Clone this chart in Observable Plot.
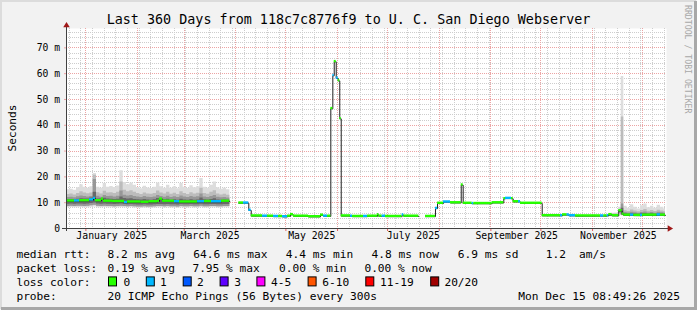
<!DOCTYPE html>
<html>
<head>
<meta charset="utf-8">
<script src="https://cdn.jsdelivr.net/npm/d3@7"></script>
<script src="https://cdn.jsdelivr.net/npm/@observablehq/plot@0.6"></script>
<style>
  html, body { margin: 0; padding: 0; background: #f2f2f2; }
  #page { position: relative; width: 697px; height: 310px; background: #f2f2f2; overflow: hidden; }
  #page svg { position: absolute; left: 0; top: 0; }
</style>
</head>
<body>
<div id="page"></div>
<script>
// ---------------- data ----------------
const rangeStart = "2024-12-20T08:49:26";
const rangeEnd = "2025-12-15T08:49:26";
const yMax = 77.5;

const yTicks = [0, 10, 20, 30, 40, 50, 60, 70];
const yTickLabels = ["0", "10 m", "20 m", "30 m", "40 m", "50 m", "60 m", "70 m"];
const xLabelDates = ["2025-01-16T12:00", "2025-03-16T12:00", "2025-05-16T12:00", "2025-07-16T12:00", "2025-09-16T12:00", "2025-11-16T12:00"];
const xLabels = ["January 2025", "March 2025", "May 2025", "July 2025", "September 2025", "November 2025"];

const lossColors = ["#26ff00", "#00b8ff", "#0059ff", "#5e00ff", "#ff00ff", "#ff5500", "#ff0000", "#a00000"];
const lossLabels = ["0", "1", "2", "3", "4-5", "6-10", "11-19", "20/20"];

// median rtt (ms), step starts; null = no data
const medDates = [
  "2024-12-20T09:00","2024-12-25T04:00","2024-12-28T04:00","2025-01-03T04:00","2025-01-05T14:00","2025-01-06T18:00",
  "2025-01-10T09:00","2025-01-11T14:00","2025-01-17T00:00","2025-01-24T04:00","2025-01-26T00:00","2025-02-03T00:00",
  "2025-02-08T00:00","2025-02-13T00:00","2025-02-14T04:00","2025-02-16T00:00","2025-02-23T04:00","2025-02-26T04:00",
  "2025-03-09T00:00","2025-03-13T04:00","2025-03-17T09:00","2025-03-23T09:00","2025-03-28T08:00",
  "2025-04-02T18:00","2025-04-05T14:00","2025-04-08T18:00","2025-04-10T05:00","2025-04-17T00:00","2025-04-20T00:00",
  "2025-04-23T14:00","2025-04-26T14:00","2025-04-29T00:00","2025-05-02T00:00","2025-05-03T18:00","2025-05-05T14:00",
  "2025-05-14T14:00","2025-05-21T18:00","2025-05-23T14:00","2025-05-26T00:00",
  "2025-05-27T23:00","2025-05-29T04:00","2025-05-30T00:00","2025-05-31T05:00","2025-06-01T09:00","2025-06-02T08:00",
  "2025-06-03T05:00","2025-06-08T18:00","2025-06-10T00:00","2025-06-16T14:00","2025-06-19T00:00","2025-06-25T00:00",
  "2025-06-25T18:00","2025-06-27T18:00","2025-06-29T18:00","2025-07-09T18:00","2025-07-10T18:00","2025-07-19T18:00",
  "2025-07-23T18:00","2025-07-29T18:00","2025-07-31T00:00","2025-08-03T14:00","2025-08-07T18:00","2025-08-14T05:00",
  "2025-08-15T09:00","2025-08-20T18:00","2025-08-21T18:00","2025-09-01T18:00","2025-09-08T18:00","2025-09-09T18:00",
  "2025-09-13T09:00","2025-09-14T09:00","2025-09-17T14:00","2025-09-18T18:00","2025-10-01T19:00","2025-10-12T18:00",
  "2025-10-14T00:00","2025-10-16T18:00","2025-10-18T00:00","2025-10-21T18:00","2025-11-05T18:00","2025-11-07T18:00",
  "2025-11-09T18:00","2025-11-10T18:00","2025-11-12T18:00","2025-11-16T18:00","2025-11-18T19:00","2025-11-19T18:00",
  "2025-11-23T18:00","2025-11-25T18:00","2025-11-29T18:00","2025-11-30T23:00","2025-12-09T18:00","2025-12-11T18:00",
  "2025-12-14T18:00"
];
const medValues = [
  10.6,10.6,10.7,11.0,11.6,10.7,
  11.3,10.5,10.4,10.0,10.2,10.1,
  10.3,10.5,11.3,10.5,10.3,10.2,
  10.3,10.4,10.3,10.5,null,
  9.8,9.8,7.0,4.8,4.7,4.7,
  4.6,4.6,4.5,4.7,5.3,4.7,
  4.5,5.1,4.7,4.7,
  46.4,59.2,64.6,58.2,57.2,42.5,
  4.8,4.7,4.6,4.6,4.7,5.3,
  4.7,4.7,4.6,5.2,4.7,null,
  4.6,7.7,9.7,10.2,9.9,16.8,
  9.7,9.6,9.6,9.9,11.5,11.6,
  11.5,10.3,10.3,9.7,4.9,4.9,
  5.2,5.2,4.9,4.8,4.8,4.8,
  4.9,5.3,4.9,6.8,5.5,5.1,
  5.1,5.0,5.0,5.1,5.2,5.1,
  null
];
const medLoss = [
  0,1,0,1,1,0,
  0,0,0,1,0,0,
  0,0,0,0,1,0,
  1,0,1,0,0,
  0,1,1,0,1,0,
  1,0,1,0,0,0,
  0,0,1,0,
  0,1,0,1,0,0,
  0,1,0,1,0,0,
  0,1,0,1,0,0,
  0,1,0,1,0,0,
  0,1,0,0,0,1,
  0,0,1,0,0,1,
  0,1,1,0,1,0,
  1,0,0,0,0,0,
  1,0,1,0,1,0,
  0
];

// smoke (consolidated ping ranks, ms); step starts, null = none
const smokeDates = [
  "2024-12-20","2024-12-22","2024-12-24","2024-12-26","2024-12-28","2024-12-30",
  "2025-01-01","2025-01-03","2025-01-05","2025-01-07","2025-01-09","2025-01-11","2025-01-13","2025-01-15",
  "2025-01-17","2025-01-19","2025-01-21","2025-01-23","2025-01-25","2025-01-27","2025-01-29","2025-01-31",
  "2025-02-02","2025-02-04","2025-02-06","2025-02-08","2025-02-10","2025-02-12","2025-02-14",
  "2025-02-16","2025-02-18","2025-02-20","2025-02-22","2025-02-24","2025-02-26","2025-02-28",
  "2025-03-02","2025-03-04","2025-03-06","2025-03-08","2025-03-10","2025-03-12","2025-03-14",
  "2025-03-16","2025-03-18","2025-03-20","2025-03-22","2025-03-24","2025-03-26",
  "2025-03-28",
  "2025-11-10","2025-11-12","2025-11-14","2025-11-16T18:00","2025-11-18T05:00","2025-11-19T18:00",
  "2025-11-21T18:00","2025-11-23T18:00","2025-11-25T18:00","2025-11-27T18:00","2025-11-29T18:00","2025-12-01T18:00",
  "2025-12-03T18:00","2025-12-05T18:00","2025-12-07T18:00","2025-12-09T18:00","2025-12-11T18:00","2025-12-13T18:00",
  "2025-12-14T18:00"
];
const smokeMax = [
  15.0,15.2,14.8,15.8,17.0,16.0,
  15.6,16.2,21.3,16.0,15.6,17.4,16.0,16.3,15.9,16.5,22.4,17.8,17.0,17.6,16.8,15.8,
  15.4,16.4,15.7,15.5,16.0,17.6,16.2,15.6,16.8,15.6,16.2,15.4,17.4,16.0,
  15.5,16.6,15.8,16.2,19.4,16.0,15.6,16.8,18.0,15.8,15.2,15.6,15.0,
  null,
  5.6,5.9,6.0,8.2,58.9,8.6,7.8,9.2,8.2,7.6,8.8,9.5,8.0,8.6,7.8,9.0,8.2,7.6,
  null
];
const smokeHigh = [
  13.2,13.4,13.0,13.6,14.2,13.8,
  13.5,13.8,20.6,13.9,13.4,14.4,13.8,13.9,13.6,14.0,18.0,14.8,14.2,14.6,14.0,13.6,
  13.2,13.8,13.4,13.3,13.6,14.5,13.8,13.4,14.0,13.3,13.7,13.2,14.2,13.6,
  13.2,13.9,13.4,13.7,15.6,13.6,13.3,14.0,14.6,13.4,13.0,13.3,12.9,
  null,
  5.4,5.6,5.6,7.5,43.2,6.9,6.6,7.2,6.8,6.5,7.0,7.4,6.7,7.0,6.6,7.1,6.8,6.5,
  null
];
const smokeMid = [
  12.0,12.1,11.9,12.3,12.6,12.4,
  12.2,12.4,19.0,12.5,12.1,12.8,12.4,12.5,12.2,12.5,14.5,12.9,12.6,12.8,12.4,12.2,
  12.0,12.4,12.1,12.0,12.2,12.8,12.4,12.1,12.5,12.0,12.3,12.0,12.6,12.2,
  12.0,12.4,12.1,12.3,13.4,12.2,12.0,12.4,12.8,12.1,11.9,12.0,11.8,
  null,
  5.2,5.4,5.4,7.2,9.5,6.2,6.0,6.3,6.1,5.9,6.2,6.4,6.0,6.2,5.9,6.3,6.1,5.9,
  null
];
const smokeInner = [
  11.2,11.2,11.1,11.3,11.5,11.4,
  11.4,11.8,14.0,11.4,11.5,11.7,11.4,11.3,11.2,11.3,12.2,11.6,11.4,11.5,11.2,11.1,
  11.0,11.2,11.0,10.9,11.1,11.6,11.5,11.1,11.3,10.9,11.1,10.9,11.3,11.0,
  10.9,11.1,10.9,11.0,11.8,11.1,11.0,11.2,11.5,11.0,10.9,11.0,10.9,
  null,
  5.1,5.3,5.2,7.0,7.8,5.7,5.6,5.7,5.6,5.5,5.7,5.8,5.6,5.7,5.5,5.7,5.6,5.5,
  null
];
const smokeCore = [
  9.4,9.5,9.4,9.5,9.5,9.4,
  9.5,9.7,9.9,9.5,9.4,9.5,9.4,9.4,9.3,9.4,9.5,9.3,9.2,9.3,9.2,9.1,
  9.1,9.2,9.1,9.1,9.2,9.3,9.3,9.2,9.3,9.2,9.2,9.1,9.3,9.2,
  9.2,9.3,9.2,9.2,9.4,9.2,9.2,9.3,9.3,9.2,9.2,9.3,9.3,
  null,
  4.8,4.9,4.8,6.4,5.3,4.9,4.9,4.9,4.9,4.8,4.9,5.0,4.9,4.9,4.8,4.9,4.9,4.8,
  null
];
const smokeLow = [
  8.5,8.6,8.5,8.6,8.6,8.5,
  8.6,8.8,9.0,8.6,8.5,8.6,8.5,8.5,8.4,8.5,8.6,8.5,8.4,8.5,8.4,8.3,
  8.3,8.4,8.3,8.3,8.4,8.5,8.5,8.4,8.5,8.4,8.4,8.3,8.5,8.4,
  8.4,8.5,8.4,8.4,8.6,8.4,8.4,8.5,8.5,8.4,8.4,8.5,8.5,
  null,
  4.7,4.8,4.7,6.0,5.0,4.8,4.8,4.8,4.8,4.7,4.8,4.9,4.8,4.8,4.7,4.8,4.8,4.7,
  null
];
const smokeMin = [
  8.0,8.1,8.0,8.0,8.1,8.0,
  8.0,8.2,8.3,8.0,8.0,8.1,8.0,8.0,7.9,8.0,8.1,8.0,8.0,8.1,7.9,7.9,
  7.8,7.9,7.9,7.8,7.9,8.0,8.0,7.9,8.0,7.9,7.9,7.8,8.0,7.9,
  7.9,8.0,7.9,7.9,8.1,7.9,7.9,8.0,8.0,7.9,7.9,8.0,8.0,
  null,
  4.6,4.7,4.6,5.6,4.8,4.7,4.7,4.7,4.7,4.6,4.7,4.8,4.7,4.7,4.6,4.7,4.7,4.6,
  null
];

// legend texts
const titleText = "Last 360 Days from 118c7c8776f9 to U. C. San Diego Webserver";
const rttItems = ["8.2 ms avg", "64.6 ms max", "4.4 ms min", "4.8 ms now", "6.9 ms sd", "1.2", "am/s"];
const lossItems = ["0.19 % avg", "7.95 % max", "0.00 % min", "0.00 % now"];
const probeText = "20 ICMP Echo Pings (56 Bytes) every 300s";
const stampText = "Mon Dec 15 08:49:26 2025";

// ---------------- layout ----------------
const W = 697, H = 310;
const rttX = [107.6, 193.3, 285.8, 371.6, 457.8, 545.8, 579.1];
const lossX = [107.6, 192.4, 279.1, 364.4];
const boxX = [108, 145.8, 182.7, 219.6, 256.4, 307.6, 365.3, 430.2];
const boxLabelX = [123.6, 160, 196.9, 234.2, 271, 322.2, 380, 444.4];
const rowY = [258.4, 272.4, 286.4, 300.4];

const parse = s => new Date(s.length === 10 ? s + "T09:00" : s);
const T0 = new Date(rangeStart), T1 = new Date(rangeEnd);

// build step geometry from the arrays
const medSteps = medDates.slice(0, -1).map((d, i) => ({t0: parse(d), t1: parse(medDates[i + 1]), v: medValues[i], loss: medLoss[i]}));
const medPts = [];
medSteps.forEach(s => {
  if (s.v == null) medPts.push({t: s.t0, v: NaN});
  else medPts.push({t: s.t0, v: s.v}, {t: s.t1, v: s.v});
});
const bandSteps = medSteps.filter(s => s.v != null);

const smokeSteps = smokeDates.slice(0, -1).map((d, i) => ({
  t0: parse(d), t1: parse(smokeDates[i + 1]),
  min: smokeMin[i], low: smokeLow[i], core: smokeCore[i],
  inner: smokeInner[i], mid: smokeMid[i], high: smokeHigh[i], max: smokeMax[i]
}));
const smokePts = [];
smokeSteps.forEach(s => {
  if (s.max == null) smokePts.push({t: s.t0, gap: true});
  else smokePts.push({...s, t: s.t0}, {...s, t: s.t1});
});
const layer = (lo, hi, fill) => Plot.areaY(smokePts, {
  x: "t", y1: d => d.gap ? NaN : d[lo], y2: d => d.gap ? NaN : d[hi], fill, curve: "linear"
});

const weeks = d3.timeSunday.range(T0, T1);
const months = d3.timeMonth.range(T0, T1);
const minorY = d3.range(2, yMax, 2).filter(v => v % 10 !== 0);
const majorY = yTicks.filter(v => v > 0);

const arrowUp = {draw(ctx, size) { const r = Math.sqrt(size / Math.PI); ctx.moveTo(0, -r * 1.2); ctx.lineTo(r * 1.25, r * 0.9); ctx.lineTo(-r * 1.25, r * 0.9); ctx.closePath(); }};
const arrowRight = {draw(ctx, size) { const r = Math.sqrt(size / Math.PI); ctx.moveTo(r * 1.2, 0); ctx.lineTo(-r * 0.9, r * 1.25); ctx.lineTo(-r * 0.9, -r * 1.25); ctx.closePath(); }};

const minorCol = "#cdcdcd", majorCol = "#eca4a4", axisCol = "#404040", arrowCol = "#a01818";

const chart = Plot.plot({
  width: W, height: 248,
  marginLeft: 66, marginRight: 31, marginTop: 28, marginBottom: 20,
  style: {background: "none", fontFamily: "'DejaVu Sans Mono', monospace", color: "#000", overflow: "visible"},
  x: {type: "time", domain: [T0, T1]},
  y: {domain: [0, yMax]},
  marks: [
    Plot.frame({fill: "#ffffff", stroke: null}),
    Plot.ruleX(weeks, {stroke: minorCol, strokeDasharray: "1,1", shapeRendering: "crispEdges"}),
    Plot.ruleY(minorY, {stroke: minorCol, strokeDasharray: "1,1", shapeRendering: "crispEdges"}),
    Plot.ruleX(months, {stroke: majorCol, strokeDasharray: "1,1", shapeRendering: "crispEdges"}),
    Plot.ruleY(majorY, {stroke: majorCol, strokeDasharray: "1,1", shapeRendering: "crispEdges"}),
    layer("min", "max", "#dddddd"),
    layer("low", "high", "#bcbcbc"),
    layer("low", "mid", "#979797"),
    layer("core", "inner", "#686868"),
    Plot.line(medPts, {x: "t", y: "v", stroke: "#202020", strokeWidth: 1}),
    Plot.ruleY(bandSteps, {x1: "t0", x2: "t1", y: "v", stroke: d => lossColors[d.loss], strokeWidth: 2.4, dy: -0.7}),
    Plot.axisY({ticks: majorY, tickSize: 2, tickFormat: () => "", stroke: majorCol, label: null}),
    Plot.axisX({ticks: months, tickSize: 3, tickFormat: () => "", stroke: "#e06060", label: null}),
    Plot.ruleX([T0], {stroke: axisCol, insetTop: -4, insetBottom: -3, shapeRendering: "crispEdges"}),
    Plot.ruleY([0], {stroke: axisCol, insetLeft: -4, insetRight: -4, shapeRendering: "crispEdges"}),
    Plot.dot([T0], {x: d => d, frameAnchor: "top", dy: -3.5, symbol: arrowUp, r: 2.6, fill: arrowCol, stroke: null}),
    Plot.dot([0], {y: d => d, frameAnchor: "right", dx: 3.5, symbol: arrowRight, r: 2.6, fill: arrowCol, stroke: null}),
    Plot.text(yTicks, {y: d => d, text: (d, i) => yTickLabels[i], frameAnchor: "left", dx: -6.5, textAnchor: "end", fontSize: 9.7, fill: "#000"}),
    Plot.text(xLabelDates, {x: d => parse(d), text: (d, i) => xLabels[i], frameAnchor: "bottom", dy: 10.3, fontSize: 9.8, fill: "#000"})
  ]
});
document.getElementById("page").appendChild(chart);

// ---------------- title, labels, legend ----------------
const ov = d3.select("#page").append("svg")
  .attr("width", W).attr("height", H)
  .style("pointer-events", "none")
  .attr("font-family", "'DejaVu Sans Mono', monospace");

// 3D border
ov.append("path").attr("d", `M1,${H - 1}V1H${W - 1}`).attr("fill", "none").attr("stroke", "#dcdcdc").attr("stroke-width", 2);
ov.append("path").attr("d", `M1,${H - 1.5}H${W - 1.5}V1`).attr("fill", "none").attr("stroke", "#a8a8a8").attr("stroke-width", 3);

ov.append("text").attr("x", W / 2).attr("y", 24.3).attr("text-anchor", "middle")
  .attr("font-size", 13.4).attr("fill", "#000").text(titleText);

ov.append("text").attr("transform", "translate(15.5,128) rotate(-90)").attr("text-anchor", "middle")
  .attr("font-size", 11.2).attr("fill", "#000").text("Seconds");

ov.append("text").attr("transform", "translate(684.5,5) rotate(90)").attr("text-anchor", "start")
  .attr("font-size", 8.2).attr("fill", "#a8a8a8").text("RRDTOOL / TOBI OETIKER");

const lg = ov.append("g").attr("font-size", 11.2).attr("fill", "#000");
const put = (x, y, s, anchor) => lg.append("text").attr("x", x).attr("y", y).attr("text-anchor", anchor || "start").attr("xml:space", "preserve").text(s);

put(16.4, rowY[0], "median rtt:");
rttItems.forEach((s, i) => put(rttX[i], rowY[0], s));
put(16.4, rowY[1], "packet loss:");
lossItems.forEach((s, i) => put(lossX[i], rowY[1], s));
put(16.4, rowY[2], "loss color:");
lossColors.forEach((c, i) => {
  lg.append("rect").attr("x", boxX[i] + 0.5).attr("y", rowY[2] - 9.5).attr("width", 8).attr("height", 9)
    .attr("fill", c).attr("stroke", "#000").attr("stroke-width", 1);
  put(boxLabelX[i], rowY[2], lossLabels[i]);
});
put(16.4, rowY[3], "probe:");
put(107.6, rowY[3], probeText);
put(680, rowY[3], stampText, "end");
</script>
</body>
</html>
